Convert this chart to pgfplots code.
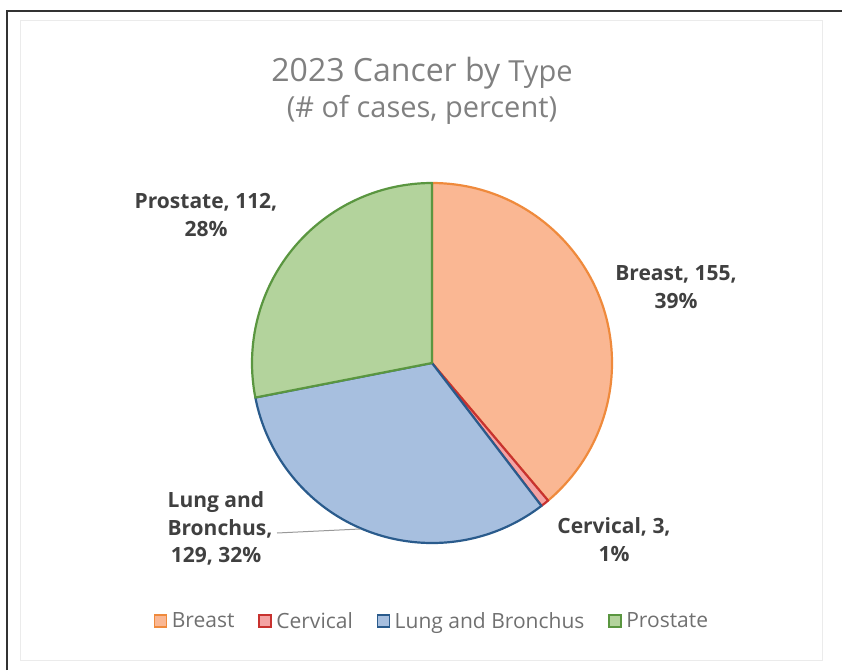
\documentclass[border=0pt]{standalone}
\usepackage{fontspec}
\setmainfont{Open Sans}
\usepackage{pgfplots}
\usepackage{pgfplotstable}
\pgfplotsset{compat=1.18}

\definecolor{bfill}{HTML}{FAB793}
\definecolor{bedge}{HTML}{EF8A3C}
\definecolor{cfill}{HTML}{F4A3A3}
\definecolor{cedge}{HTML}{C8322F}
\definecolor{lfill}{HTML}{A7BFDF}
\definecolor{ledge}{HTML}{2A5B8C}
\definecolor{pfill}{HTML}{B3D39C}
\definecolor{pedge}{HTML}{5A9640}
\definecolor{labtext}{HTML}{404040}
\definecolor{titletext}{HTML}{808080}
\definecolor{legtext}{HTML}{707070}

% cases by type
\pgfplotstableread{
type value
Breast 155
Cervical 3
Lung 129
Prostate 112
}\cancer

\pgfplotstablegetelem{0}{value}\of\cancer \let\vB\pgfplotsretval
\pgfplotstablegetelem{1}{value}\of\cancer \let\vC\pgfplotsretval
\pgfplotstablegetelem{2}{value}\of\cancer \let\vL\pgfplotsretval
\pgfplotstablegetelem{3}{value}\of\cancer \let\vP\pgfplotsretval
\pgfmathsetmacro\total{\vB+\vC+\vL+\vP}
% slices run clockwise from 12 o'clock
\pgfmathsetmacro\aB{90-360*(\vB/\total)}
\pgfmathsetmacro\aC{\aB-360*(\vC/\total)}
\pgfmathsetmacro\aL{\aC-360*(\vL/\total)}
\pgfmathsetmacro\aP{\aL-360*(\vP/\total)}

\newcommand\lab{\fontsize{21}{26}\selectfont\bfseries\color{labtext}}
\pgfplotsset{
	sq/.style 2 args={legend image code/.code={
		\draw[fill=#1,draw=#2,line width=1.4pt] (0pt,-6pt) rectangle (12pt,6pt);
		\path (15pt,0pt);}},
}

\begin{document}
\begin{tikzpicture}[x=1pt,y=1pt]
\path[use as bounding box] (0,0) rectangle (842,670);

% scanned frame
\draw[black!8,line width=0.6pt] (20,10) rectangle (822,650);
\draw[black!80,line width=1.8pt] (7,0) -- (7,659) -- (842,659);

\begin{axis}[
	scale only axis,
	width=360pt, height=360pt,
	at={(432pt,307pt)}, anchor=center,
	xmin=-1, xmax=1, ymin=-1, ymax=1,
	hide axis,
	clip=false,
	legend columns=4,
	legend style={
		draw=none, fill=none,
		at={(0.5,-0.2167)}, anchor=center,
		font=\fontsize{21}{25}\selectfont\color{legtext},
		/tikz/every even column/.append style={column sep=22pt},
		inner sep=0pt,
	},
	legend cell align=left,
]
\filldraw[fill=bfill, draw=bedge, line width=2.2pt, line join=round]
	(axis cs:0,0) -- (axis cs:0,1) arc[start angle=90, end angle=\aB, radius=180pt] -- cycle;
\filldraw[fill=cfill, draw=cedge, line width=2.2pt, line join=round]
	(axis cs:0,0) -- (axis cs:{cos(\aB)},{sin(\aB)}) arc[start angle=\aB, end angle=\aC, radius=180pt] -- cycle;
\filldraw[fill=lfill, draw=ledge, line width=2.2pt, line join=round]
	(axis cs:0,0) -- (axis cs:{cos(\aC)},{sin(\aC)}) arc[start angle=\aC, end angle=\aL, radius=180pt] -- cycle;
\filldraw[fill=pfill, draw=pedge, line width=2.2pt, line join=round]
	(axis cs:0,0) -- (axis cs:{cos(\aL)},{sin(\aL)}) arc[start angle=\aL, end angle=\aP, radius=180pt] -- cycle;

\addlegendimage{sq={bfill}{bedge}}
\addlegendentry{Breast}
\addlegendimage{sq={cfill}{cedge}}
\addlegendentry{Cervical}
\addlegendimage{sq={lfill}{ledge}}
\addlegendentry{Lung and Bronchus}
\addlegendimage{sq={pfill}{pedge}}
\addlegendentry{Prostate}
\end{axis}

% title
\node[anchor=base, text=titletext, font=\fontsize{32}{38}\selectfont] at (422,588)
	{2023 Cancer by {\fontsize{29}{34}\selectfont Type}};
\node[anchor=base, text=titletext, font=\fontsize{29}{34}\selectfont] at (422,552)
	{(\# of cases, percent)};

% data labels
\node[anchor=base] at (206,461) {\lab Prostate, 112,};
\node[anchor=base] at (206,433) {\lab 28\%};
\node[anchor=base] at (676,389) {\lab Breast, 155,};
\node[anchor=base] at (676,362) {\lab 39\%};
\node[anchor=base] at (216,163) {\lab Lung and};
\node[anchor=base] at (220,135) {\lab Bronchus,};
\node[anchor=base] at (216,108) {\lab 129, 32\%};
\node[anchor=base] at (614,137) {\lab Cervical, 3,};
\node[anchor=base] at (614,109) {\lab 1\%};
\draw[black!40, line width=1pt] (277,137) -- (360,141);
\end{tikzpicture}
\end{document}
